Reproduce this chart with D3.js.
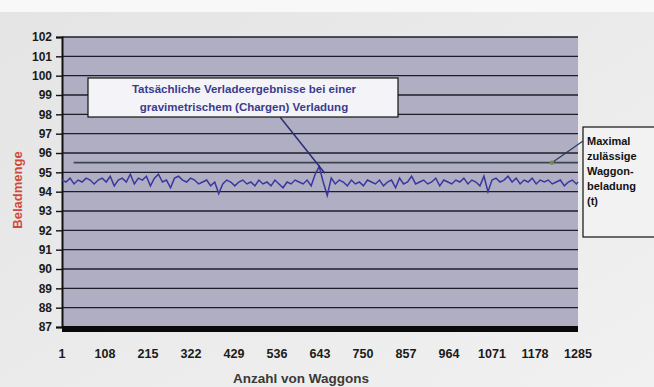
<!DOCTYPE html>
<html>
<head>
<meta charset="utf-8">
<script src="https://cdn.jsdelivr.net/npm/d3@7"></script>
<style>
  body { margin: 0; background: #ececec; }
  #chart { width: 654px; height: 387px; }
  text { font-family: "Liberation Sans", Arial, sans-serif; font-weight: bold; }
</style>
</head>
<body>
<div id="chart"></div>
<script>
/* chart values */
const yTicks = [87, 88, 89, 90, 91, 92, 93, 94, 95, 96, 97, 98, 99, 100, 101, 102];
const xTicks = [1, 108, 215, 322, 429, 536, 643, 750, 857, 964, 1071, 1178, 1285];
const maxLoad = 95.5;
// loading result sampled every 10 waggons (1, 11, 21 ... 1281) plus the last one
const loads = [
    94.6, 94.5, 94.7, 94.4, 94.6, 94.5, 94.7, 94.6, 94.4, 94.6,
    94.7, 94.5, 94.8, 94.3, 94.6, 94.7, 94.5, 94.9, 94.4, 94.7,
    94.6, 94.8, 94.3, 94.7, 94.9, 94.5, 94.6, 94.2, 94.7, 94.8,
    94.6, 94.5, 94.7, 94.6, 94.4, 94.5, 94.6, 94.3, 94.5, 93.9,
    94.4, 94.6, 94.5, 94.3, 94.5, 94.6, 94.4, 94.5, 94.3, 94.6,
    94.4, 94.5, 94.3, 94.6, 94.4, 94.2, 94.5, 94.4, 94.6, 94.5,
    94.4, 94.6, 94.3, 94.9, 95.3, 94.5, 93.8, 94.7, 94.4, 94.6,
    94.5, 94.3, 94.6, 94.4, 94.5, 94.3, 94.6, 94.5, 94.4, 94.6,
    94.3, 94.5, 94.6, 94.2, 94.7, 94.4, 94.5, 94.8, 94.4, 94.5,
    94.6, 94.4, 94.5, 94.7, 94.3, 94.6, 94.5, 94.4, 94.6, 94.5,
    94.7, 94.4, 94.6, 94.5, 94.3, 94.8, 94.0, 94.6, 94.7, 94.5,
    94.6, 94.8, 94.5, 94.7, 94.4, 94.6, 94.5, 94.7, 94.4, 94.6,
    94.5, 94.6, 94.4, 94.5, 94.6, 94.3, 94.5, 94.6, 94.4,
    94.5
];
const waggons = d3.range(1, 1282, 10).concat([1285]);

const width = 654, height = 387;
const margin = { top: 37, left: 62, right: 76, bottom: 60 };

const svg = d3.select("#chart")
    .append("svg")
    .attr("width", width)
    .attr("height", height);

// soft light backdrop
const grad = svg.append("defs").append("linearGradient")
    .attr("id", "bg").attr("x1", 0).attr("y1", 0).attr("x2", 1).attr("y2", 1);
grad.append("stop").attr("offset", "0%").attr("stop-color", "#e3e4e3");
grad.append("stop").attr("offset", "100%").attr("stop-color", "#f1f1f1");
svg.append("rect").attr("width", width).attr("height", height).attr("fill", "url(#bg)");
svg.append("rect").attr("width", width).attr("height", 12).attr("fill", "#f8f8f8");

const xScale = d3.scaleLinear()
    .domain([1, 1285])
    .range([margin.left, width - margin.right]);

const yScale = d3.scaleLinear()
    .domain([87, 102])
    .range([height - margin.bottom, margin.top]);

// plot area
svg.append("rect")
    .attr("x", xScale(1))
    .attr("y", yScale(102))
    .attr("width", xScale(1285) - xScale(1))
    .attr("height", yScale(87) - yScale(102))
    .attr("fill", "#b0aec2");

// gridlines
svg.selectAll(".grid")
    .data(yTicks.filter(d => d > 87))
    .enter()
    .append("line")
    .attr("class", "grid")
    .attr("x1", xScale(1))
    .attr("x2", xScale(1285))
    .attr("y1", d => yScale(d))
    .attr("y2", d => yScale(d))
    .attr("stroke", "#1e1e2a")
    .attr("stroke-width", 1.4);

// y axis
const yAxis = d3.axisLeft(yScale).tickValues(yTicks).tickSize(6).tickPadding(4);
const gy = svg.append("g")
    .attr("transform", `translate(${margin.left},0)`)
    .call(yAxis);
gy.select(".domain").attr("stroke", "#111").attr("stroke-width", 2);
gy.selectAll(".tick line").attr("stroke", "#111").attr("stroke-width", 1.4);
gy.selectAll(".tick text").attr("font-size", 12).attr("fill", "#1a1a1a")
    .style("font-family", "'Liberation Sans', Arial, sans-serif").style("font-weight", "bold");

// thick bottom band
svg.append("rect")
    .attr("x", xScale(1))
    .attr("y", yScale(87) - 1)
    .attr("width", xScale(1285) - xScale(1))
    .attr("height", 6)
    .attr("fill", "#0a0a0a");

// x tick labels
svg.selectAll(".xlab")
    .data(xTicks)
    .enter()
    .append("text")
    .attr("class", "xlab")
    .attr("x", d => xScale(d))
    .attr("y", 358)
    .attr("text-anchor", "middle")
    .attr("font-size", 12.5)
    .attr("fill", "#1a1a1a")
    .text(d => d);

// axis titles
svg.append("text")
    .attr("x", 301)
    .attr("y", 383)
    .attr("text-anchor", "middle")
    .attr("font-size", 13.5)
    .attr("fill", "#3a3a3a")
    .text("Anzahl von Waggons");

svg.append("text")
    .attr("transform", "translate(22,190) rotate(-90)")
    .attr("text-anchor", "middle")
    .attr("font-size", 13)
    .attr("fill", "#d0483a")
    .text("Beladmenge");

// max load line
svg.append("line")
    .attr("x1", xScale(30))
    .attr("x2", xScale(1285))
    .attr("y1", yScale(maxLoad))
    .attr("y2", yScale(maxLoad))
    .attr("stroke", "#3c4450")
    .attr("stroke-width", 1.6);

// loading results
const line = d3.line()
    .x((d, i) => xScale(waggons[i]))
    .y(d => yScale(d));

svg.append("path")
    .datum(loads)
    .attr("fill", "none")
    .attr("stroke", "#3a36a0")
    .attr("stroke-width", 1.5)
    .attr("d", line);

// callout box
svg.append("rect")
    .attr("x", 88).attr("y", 78)
    .attr("width", 310).attr("height", 39)
    .attr("fill", "#f4f4f8")
    .attr("stroke", "#111")
    .attr("stroke-width", 1.2);

svg.append("text")
    .attr("x", 244).attr("y", 93)
    .attr("text-anchor", "middle")
    .attr("font-size", 11.5)
    .attr("fill", "#3b3b8e")
    .text("Tatsächliche Verladeergebnisse bei einer");
svg.append("text")
    .attr("x", 244).attr("y", 111)
    .attr("text-anchor", "middle")
    .attr("font-size", 11.5)
    .attr("fill", "#3b3b8e")
    .text("gravimetrischem (Chargen) Verladung");

svg.append("line")
    .attr("x1", 280).attr("y1", 117)
    .attr("x2", xScale(655)).attr("y2", yScale(94.95))
    .attr("stroke", "#2a2a70")
    .attr("stroke-width", 1.4);

// max label box
svg.append("rect")
    .attr("x", 583).attr("y", 127)
    .attr("width", 80).attr("height", 110)
    .attr("fill", "#f2f2f2")
    .attr("stroke", "#111")
    .attr("stroke-width", 1.2);

const maxLabel = ["Maximal", "zulässige", "Waggon-", "beladung", "(t)"];
svg.selectAll(".maxlab")
    .data(maxLabel)
    .enter()
    .append("text")
    .attr("class", "maxlab")
    .attr("x", 587)
    .attr("y", (d, i) => 145 + i * 15)
    .attr("font-size", 11)
    .attr("fill", "#111")
    .text(d => d);

svg.append("line")
    .attr("x1", 583).attr("y1", 141)
    .attr("x2", xScale(1220)).attr("y2", yScale(maxLoad))
    .attr("stroke", "#2a3a60")
    .attr("stroke-width", 1.2);
svg.append("circle")
    .attr("cx", xScale(1220)).attr("cy", yScale(maxLoad))
    .attr("r", 2.2)
    .attr("fill", "#7a8a40");
</script>
</body>
</html>
